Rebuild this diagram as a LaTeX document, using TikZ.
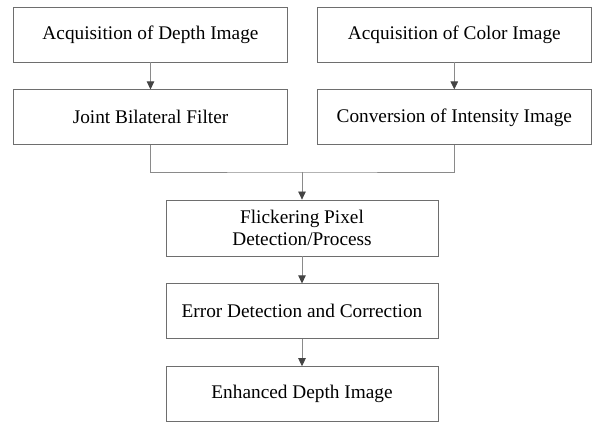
\documentclass[tikz,border=0pt]{standalone}
\usepackage{fontspec}
\setmainfont{Liberation Serif}
\usepackage{xcolor}
\usetikzlibrary{arrows.meta,positioning,calc}
\definecolor{boxline}{HTML}{6E6E6E}
\definecolor{flowline}{HTML}{8A8A8A}
\definecolor{tipgray}{HTML}{444444}

\begin{document}
\begin{tikzpicture}[x=1pt,y=1pt,
  procbox/.style={draw=boxline,line width=0.8pt,minimum width=274pt,
    minimum height=55pt,align=center,inner sep=2pt,
    font=\fontsize{19.3}{22.5}\selectfont},
  flowarrow/.style={draw=flowline,line width=0.8pt,
    -{Triangle[length=8pt,width=7.5pt,color=tipgray]}},
  flowline/.style={draw=flowline,line width=0.8pt}]
  \useasboundingbox (0,0) rectangle (595,-422);

  % left branch
  \node[procbox] (depth) at (150.5,-34.5) {Acquisition of Depth Image};
  \node[procbox,below=27pt of depth] (bilat) {Joint Bilateral Filter};
  % right branch
  \node[procbox,right=29pt of depth] (color) {Acquisition of Color Image};
  \node[procbox,below=27pt of color] (conv) {Conversion of Intensity Image};
  % main line
  \node[procbox,minimum width=272pt,minimum height=56pt] (flick)
    at (302,-228) {Flickering Pixel\\Detection/Process};
  \node[procbox,minimum width=272pt,below=27pt of flick] (error)
    {Error Detection and Correction};
  \node[procbox,minimum width=272pt,below=27pt of error] (enh)
    {Enhanced Depth Image};

  \coordinate (merge) at (302,-172);

  \draw[flowarrow] (depth) -- (bilat);
  \draw[flowarrow] (color) -- (conv);
  \draw[flowline] (bilat.south) |- (merge) -| (conv.south);
  \draw[flowarrow] (merge) -- (flick);
  \draw[flowarrow] (flick) -- (error);
  \draw[flowarrow] (error) -- (enh);
\end{tikzpicture}
\end{document}
